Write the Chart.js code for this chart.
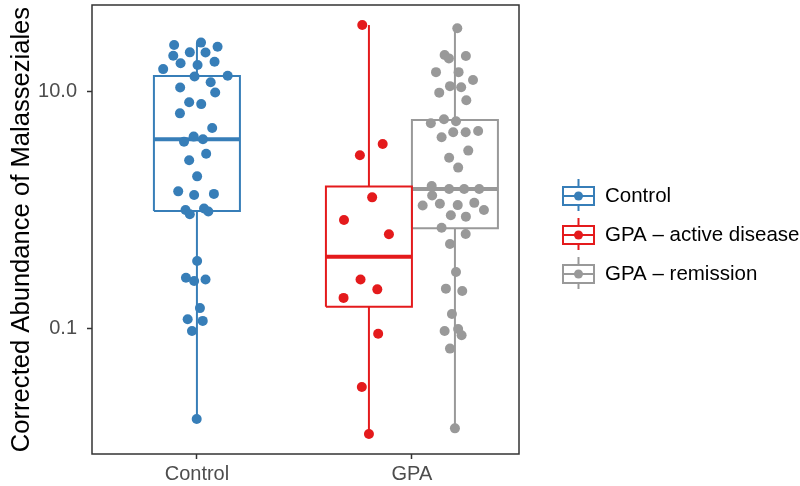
<!DOCTYPE html>
<html>
<head>
<meta charset="utf-8">
<script src="https://cdn.jsdelivr.net/npm/chart.js@4.4.0/dist/chart.umd.min.js"></script>
<style>
  html, body { margin: 0; padding: 0; background: #fff; }
  #wrap { width: 800px; height: 486px; }
</style>
</head>
<body>
<div id="wrap"><canvas id="chart" width="800" height="486"></canvas></div>
<script>
// categories and groups
const xCategories = ['Control', 'GPA'];
const groupNames = ['Control', 'GPA – active disease', 'GPA – remission'];
const groupColors = ['#377EB8', '#E41A1C', '#999999'];
const groupCenters = [1, 1.8, 2.2]; // dodged positions on the category axis
const boxHalfWidth = 0.2;

// box statistics
const whiskerLow  = [0.0174, 0.0130, 0.0145];
const q1          = [0.99, 0.154, 0.708];
const median      = [3.99, 0.407, 1.52];
const q3          = [13.65, 1.59, 5.81];
const whiskerHigh = [26.1, 36.7, 34.5];

// jittered points
const controlX = [0.894,1.019,1.096,0.890,0.967,1.040,0.924,1.003,1.082,0.843,0.989,1.143,1.064,0.922,1.085,0.964,1.020,0.921,1.071,0.940,0.985,1.028,1.043,0.964,1.001,0.913,0.987,1.079,0.947,0.967,1.033,1.053,1.001,0.949,0.987,1.040,1.014,0.957,1.027,0.977,0.999];
const controlY = [24.9,26.1,24.1,20.2,21.6,21.5,17.5,16.9,18.0,15.6,13.5,13.7,12.1,10.9,9.9,8.2,7.9,6.6,4.97,3.81,4.2,3.99,3.01,2.65,1.94,1.45,1.35,1.38,1.01,0.93,1.04,0.98,0.375,0.271,0.254,0.262,0.150,0.121,0.117,0.096,0.0174];

const activeX = [1.769,1.864,1.758,1.815,1.684,1.893,1.761,1.839,1.682,1.843,1.767,1.800];
const activeY = [36.7,3.64,2.92,1.29,0.83,0.63,0.262,0.216,0.183,0.0912,0.0324,0.0130];

const remissionX = [2.211,2.152,2.172,2.251,2.112,2.217,2.284,2.177,2.229,2.127,2.253,2.088,2.149,2.205,2.138,2.192,2.250,2.308,2.262,2.173,2.215,2.092,2.094,2.173,2.243,2.313,2.050,2.130,2.213,2.290,2.335,2.181,2.251,2.138,2.250,2.177,2.205,2.158,2.234,2.186,2.152,2.215,2.231,2.177,2.200];
const remissionY = [34.5,20.5,19.2,20.1,14.7,14.7,12.6,11.2,10.96,9.87,8.51,5.45,5.89,5.66,4.15,4.57,4.57,4.69,3.20,2.79,2.30,1.61,1.34,1.52,1.52,1.52,1.10,1.14,1.11,1.16,1.01,0.911,0.887,0.716,0.634,0.521,0.303,0.219,0.209,0.134,0.096,0.100,0.0885,0.0683,0.0145];

const yTicks = [0.1, 10];
const yTickLabels = ['0.1', '10.0'];
const yTitle = 'Corrected Abundance of Malasseziales';

const FONT = '"Liberation Sans", Arial, Helvetica, sans-serif';

const pointSets = [[controlX, controlY], [activeX, activeY], [remissionX, remissionY]];
const datasets = [];

groupNames.forEach((name, i) => {
    const c = groupCenters[i];
    const w = boxHalfWidth;
    const line = {
        showLine: true,
        borderColor: groupColors[i],
        backgroundColor: groupColors[i],
        pointRadius: 0,
        pointHoverRadius: 0,
        borderWidth: 2,
        fill: false,
        tension: 0,
        order: 1,
    };
    // box outline
    datasets.push({ ...line, label: name + ' box', borderJoinStyle: 'miter', data: [
        { x: c - w, y: q1[i] }, { x: c + w, y: q1[i] }, { x: c + w, y: q3[i] },
        { x: c - w, y: q3[i] }, { x: c - w, y: q1[i] }
    ]});
    // median
    datasets.push({ ...line, label: name + ' median', borderWidth: 4, data: [
        { x: c - w, y: median[i] }, { x: c + w, y: median[i] }
    ]});
    // whiskers
    datasets.push({ ...line, label: name + ' upper', data: [{ x: c, y: q3[i] }, { x: c, y: whiskerHigh[i] }] });
    datasets.push({ ...line, label: name + ' lower', data: [{ x: c, y: whiskerLow[i] }, { x: c, y: q1[i] }] });
    // points
    const [xs, ys] = pointSets[i];
    datasets.push({
        label: name,
        data: xs.map((x, k) => ({ x, y: ys[k] })),
        backgroundColor: groupColors[i],
        borderWidth: 0,
        pointRadius: 5,
        pointHoverRadius: 5,
        showLine: false,
        order: 0,
    });
});

// panel border on all four sides
const panelBorder = {
    id: 'panelBorder',
    afterDatasetsDraw(chart) {
        const { ctx, chartArea: a } = chart;
        ctx.save();
        ctx.strokeStyle = '#333333';
        ctx.lineWidth = 1.5;
        ctx.strokeRect(a.left, a.top, a.right - a.left, a.bottom - a.top);
        ctx.restore();
    }
};

// legend with boxplot keys
const boxLegend = {
    id: 'boxLegend',
    afterDraw(chart) {
        const ctx = chart.ctx;
        const left = 563, kw = 31, kh = 18;
        ctx.save();
        groupNames.forEach((name, i) => {
            const cy = 196 + i * 39;
            const cx = left + kw / 2;
            ctx.strokeStyle = groupColors[i];
            ctx.fillStyle = groupColors[i];
            ctx.lineWidth = 2;
            ctx.beginPath();
            ctx.moveTo(cx, cy - 17); ctx.lineTo(cx, cy - kh / 2);
            ctx.moveTo(cx, cy + kh / 2); ctx.lineTo(cx, cy + 15);
            ctx.moveTo(left, cy); ctx.lineTo(left + kw, cy);
            ctx.stroke();
            ctx.strokeRect(left, cy - kh / 2, kw, kh);
            ctx.beginPath();
            ctx.arc(cx, cy, 4.5, 0, Math.PI * 2);
            ctx.fill();
            ctx.fillStyle = '#000000';
            ctx.font = '20.5px ' + FONT;
            ctx.textAlign = 'left';
            ctx.textBaseline = 'middle';
            ctx.fillText(name, 605, cy);
        });
        ctx.restore();
    }
};

new Chart(document.getElementById('chart'), {
    type: 'scatter',
    data: { datasets },
    options: {
        responsive: false,
        animation: false,
        devicePixelRatio: 1,
        layout: { padding: { left: 0, right: 281, top: 5, bottom: 0 } },
        plugins: {
            legend: { display: false },
            tooltip: { enabled: false },
        },
        scales: {
            x: {
                type: 'linear',
                min: 0.512,
                max: 2.498,
                afterFit: (s) => { s.height = 32; s.paddingLeft = 0; s.paddingRight = 0; },
                afterBuildTicks: (s) => { s.ticks = xCategories.map((_, k) => ({ value: k + 1 })); },
                ticks: {
                    callback: (v) => xCategories[v - 1],
                    color: '#4D4D4D',
                    font: { family: FONT, size: 20 },
                    padding: 3,
                    maxRotation: 0,
                },
                grid: { display: true, drawOnChartArea: false, drawTicks: true, tickLength: 5, tickColor: '#333333', tickWidth: 1.5 },
                border: { display: false },
            },
            y: {
                type: 'logarithmic',
                min: 0.00881,
                max: 54.2,
                afterFit: (s) => { s.width = 92; s.paddingTop = 0; s.paddingBottom = 0; },
                afterBuildTicks: (s) => { s.ticks = yTicks.map(v => ({ value: v })); },
                ticks: {
                    callback: (v) => yTickLabels[yTicks.indexOf(v)],
                    color: '#4D4D4D',
                    font: { family: FONT, size: 20 },
                    padding: 10,
                },
                grid: { display: true, drawOnChartArea: false, drawTicks: true, tickLength: 5, tickColor: '#333333', tickWidth: 1.5 },
                border: { display: false },
                title: {
                    display: true,
                    text: yTitle,
                    color: '#000000',
                    font: { family: FONT, size: 25.6 },
                    padding: { top: 7, bottom: 0 },
                },
            },
        },
    },
    plugins: [panelBorder, boxLegend],
});
</script>
</body>
</html>
